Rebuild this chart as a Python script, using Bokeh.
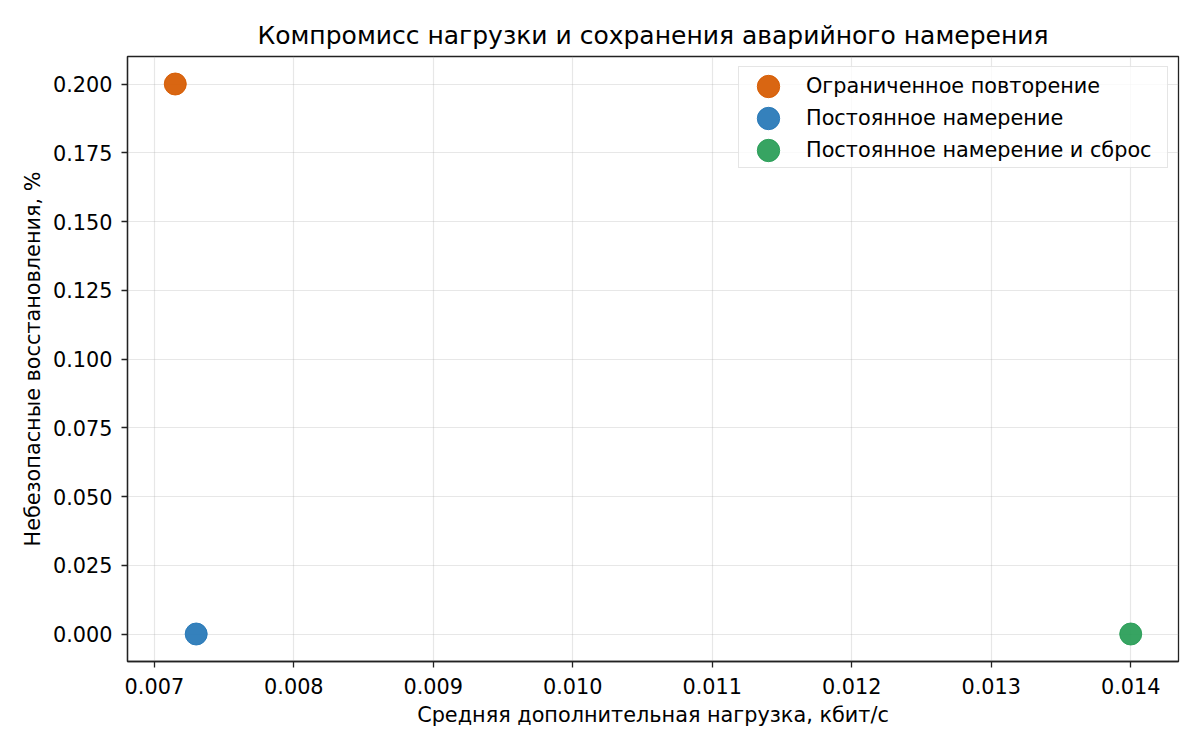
from bokeh.plotting import figure
from bokeh.models import ColumnDataSource, Legend, LegendItem, Range1d, FixedTicker, NumeralTickFormatter
from bokeh.embed import file_html
from bokeh.resources import INLINE

methods = ["Ограниченное повторение", "Постоянное намерение", "Постоянное намерение и сброс"]
overhead_kbps = [0.00715, 0.0073, 0.0140]
unsafe_pct = [0.200, 0.000, 0.000]
colors = ["#d65a00", "#2677b7", "#289d56"]
x_ticks = [0.007, 0.008, 0.009, 0.010, 0.011, 0.012, 0.013, 0.014]
y_ticks = [0.0, 0.025, 0.05, 0.075, 0.1, 0.125, 0.15, 0.175, 0.2]

FONT = "DejaVu Sans"
FS = "20.8px"

xmin, xmax = min(overhead_kbps), max(overhead_kbps)
ymin, ymax = min(unsafe_pct), max(unsafe_pct)
xpad = (xmax - xmin) * 0.05
ypad = (ymax - ymin) * 0.05

p = figure(width=1184, height=734, output_backend="svg", toolbar_location=None,
           x_range=Range1d(xmin - xpad, xmax + xpad), y_range=Range1d(ymin - ypad, ymax + ypad),
           title="Компромисс нагрузки и сохранения аварийного намерения",
           min_border_left=127, min_border_right=6, min_border_top=56, min_border_bottom=73)

p.title.text_font = FONT
p.title.text_font_size = "25px"
p.title.text_font_style = "normal"
p.title.align = "center"
p.title.text_color = "#000000"
p.title.standoff = 13

p.outline_line_color = "#222222"
p.outline_line_width = 1.3
p.background_fill_color = "white"
p.border_fill_color = "white"

for ax in (p.xaxis[0], p.yaxis[0]):
    ax.axis_line_color = "#222222"
    ax.axis_line_width = 1.3
    ax.major_tick_line_color = "#222222"
    ax.major_tick_line_width = 1.3
    ax.major_tick_out = 6
    ax.major_tick_in = 0
    ax.minor_tick_line_color = None
    ax.major_label_text_font = FONT
    ax.major_label_text_font_size = FS
    ax.major_label_text_color = "#000000"
    ax.axis_label_text_font = FONT
    ax.axis_label_text_font_size = FS
    ax.axis_label_text_font_style = "normal"
    ax.axis_label_text_color = "#000000"
    ax.formatter = NumeralTickFormatter(format="0.000")

p.xaxis[0].ticker = FixedTicker(ticks=x_ticks)
p.yaxis[0].ticker = FixedTicker(ticks=y_ticks)
p.xaxis.axis_label = "Средняя дополнительная нагрузка, кбит/с"
p.yaxis.axis_label = "Небезопасные восстановления, %"
p.xaxis.major_label_standoff = 10
p.yaxis.major_label_standoff = 9
p.xaxis.axis_label_standoff = 6
p.yaxis.axis_label_standoff = 5

p.xgrid.ticker = FixedTicker(ticks=x_ticks)
p.ygrid.ticker = FixedTicker(ticks=y_ticks)
p.grid.grid_line_color = "#b0b0b0"
p.grid.grid_line_alpha = 0.3
p.grid.grid_line_width = 1.2

items = []
for m, x, y, c in zip(methods, overhead_kbps, unsafe_pct, colors):
    src = ColumnDataSource(dict(x=[x], y=[y]))
    r = p.ellipse(x="x", y="y", width=22, height=22, width_units="screen", height_units="screen",
                  source=src, fill_color=c, line_color=c, fill_alpha=0.93, line_alpha=0.93)
    items.append(LegendItem(label=m, renderers=[r]))

legend = Legend(items=items, location="top_right",
                label_text_font=FONT, label_text_font_size=FS, label_text_color="#000000",
                glyph_width=42, glyph_height=28, label_height=28, label_width=353,
                spacing=4, label_standoff=17,
                padding=dict(left=8, right=8, top=5, bottom=3), margin=10,
                border_line_color="#cccccc", border_line_width=1.3,
                background_fill_color="white", background_fill_alpha=0.8)
p.add_layout(legend)

open("out.html", "w").write(file_html(p, INLINE))
